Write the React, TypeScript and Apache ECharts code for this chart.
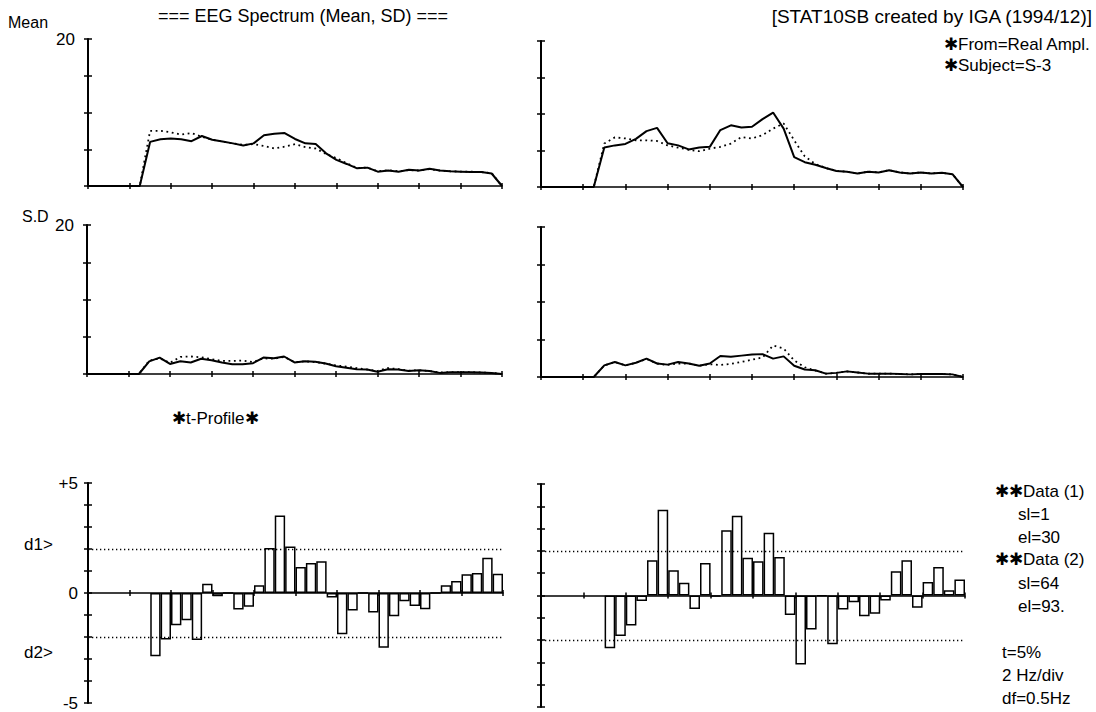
import React, { useEffect, useRef } from "react";
import * as echarts from "echarts";

// Frequency axis, 0.5 Hz resolution (df = 0.5 Hz)
const freqHz = [0, 0.5, 1, 1.5, 2, 2.5, 3, 3.5, 4, 4.5, 5, 5.5, 6, 6.5, 7, 7.5, 8, 8.5, 9, 9.5, 10, 10.5, 11, 11.5, 12, 12.5, 13, 13.5, 14, 14.5, 15, 15.5, 16, 16.5, 17, 17.5, 18, 18.5, 19, 19.5, 20];

// Mean spectra
const meanLeftSolid = [0, 0, 0, 0, 0, 0, 6.0, 6.35, 6.45, 6.35, 6.1, 6.8, 6.3, 6.05, 5.8, 5.5, 5.8, 6.9, 7.1, 7.2, 6.4, 5.8, 5.7, 4.45, 3.55, 3.0, 2.4, 2.5, 1.95, 2.1, 1.95, 2.2, 2.1, 2.35, 2.1, 2.0, 1.95, 1.9, 1.9, 1.7, 0];
const meanLeftDotted = [0, 0, 0, 0, 0, 0, 7.5, 7.5, 7.3, 7.0, 7.2, 6.7, 6.3, 6.05, 5.8, 5.6, 5.7, 5.45, 5.1, 5.35, 5.7, 5.3, 5.1, 4.35, 3.8, 3.1, 2.45, 2.5, 2.0, 2.15, 2.0, 2.15, 2.1, 2.3, 2.1, 2.0, 1.95, 1.95, 1.9, 1.75, 0];
const meanRightSolid = [0, 0, 0, 0, 0, 0, 5.4, 5.7, 5.9, 6.6, 7.65, 8.1, 6.0, 5.7, 5.15, 5.4, 5.5, 7.8, 8.45, 8.15, 8.25, 9.3, 10.2, 8.0, 4.1, 3.4, 3.05, 2.6, 2.2, 2.1, 1.85, 2.1, 2.0, 2.3, 2.0, 1.85, 2.0, 1.85, 1.95, 1.75, 0];
const meanRightDotted = [0, 0, 0, 0, 0, 0, 5.95, 6.8, 6.65, 6.4, 6.4, 6.3, 5.7, 5.4, 5.1, 4.9, 5.25, 5.5, 5.95, 6.85, 6.65, 7.1, 8.0, 8.7, 6.4, 4.2, 3.15, 2.6, 2.2, 2.1, 1.85, 2.1, 2.0, 2.3, 2.0, 1.85, 2.0, 1.85, 1.95, 1.75, 0];

// SD spectra
const sdLeftSolid = [0, 0, 0, 0, 0, 0, 1.7, 2.2, 1.35, 1.7, 1.55, 2.05, 1.85, 1.55, 1.3, 1.3, 1.45, 2.2, 2.1, 2.35, 1.55, 1.7, 1.65, 1.4, 1.05, 0.85, 0.65, 0.6, 0.3, 0.65, 0.6, 0.4, 0.5, 0.4, 0.15, 0.25, 0.25, 0.25, 0.2, 0.15, 0];
const sdLeftDotted = [0, 0, 0, 0, 0, 0, 1.8, 2.1, 1.5, 2.3, 2.35, 2.25, 2.0, 1.75, 1.75, 1.8, 1.6, 2.1, 2.05, 2.3, 1.6, 1.7, 1.6, 1.4, 1.15, 1.0, 0.8, 0.6, 0.4, 0.8, 0.65, 0.45, 0.5, 0.4, 0.2, 0.25, 0.25, 0.25, 0.2, 0.15, 0];
const sdRightSolid = [0, 0, 0, 0, 0, 0, 1.55, 2.0, 1.55, 1.9, 2.45, 1.8, 1.65, 2.0, 1.8, 1.5, 1.8, 2.8, 2.7, 2.85, 3.0, 3.05, 2.45, 2.75, 1.5, 1.0, 0.9, 0.45, 0.55, 0.75, 0.6, 0.45, 0.45, 0.45, 0.4, 0.35, 0.4, 0.4, 0.4, 0.35, 0];
const sdRightDotted = [0, 0, 0, 0, 0, 0, 1.55, 2.0, 1.55, 1.9, 2.4, 1.8, 1.6, 1.8, 1.8, 1.5, 1.7, 1.6, 1.75, 2.0, 2.3, 2.6, 4.2, 3.8, 2.2, 1.3, 0.85, 0.45, 0.55, 0.75, 0.6, 0.45, 0.45, 0.45, 0.4, 0.35, 0.4, 0.4, 0.4, 0.35, 0];

// t-profile (bins 3.0 .. 19.5 Hz, each 0.5 Hz wide)
const tBinStartHz = [3, 3.5, 4, 4.5, 5, 5.5, 6, 6.5, 7, 7.5, 8, 8.5, 9, 9.5, 10, 10.5, 11, 11.5, 12, 12.5, 13, 13.5, 14, 14.5, 15, 15.5, 16, 16.5, 17, 17.5, 18, 18.5, 19, 19.5];
const tLeft = [-2.87, -2.11, -1.47, -1.24, -2.14, 0.42, -0.15, 0, -0.75, -0.63, 0.35, 2.04, 3.52, 2.11, 1.18, 1.36, 1.44, -0.2, -1.87, -0.79, 0, -0.89, -2.49, -1.06, -0.38, -0.59, -0.74, 0, 0.35, 0.54, 0.85, 0.91, 1.6, 0.88];
const tRight = [-2.37, -1.82, -1.34, -0.25, 1.58, 3.85, 1.13, 0.57, -0.6, 1.46, -0.05, 2.93, 3.58, 1.69, 1.54, 2.81, 1.73, -0.88, -3.09, -1.52, -0.03, -2.19, -0.63, -0.3, -0.93, -0.82, -0.22, 1.09, 1.58, -0.55, 0.6, 1.28, 0.24, 0.72];
const tCritical = [2.0, -2.0];

// Tick labels
const spectrumTickValues = [20];
const spectrumTickLabels = ["20"];
const tTickValues = [5, 0, -5];
const tTickLabels = ["+5", "0", "-5"];

const FONT = '"Liberation Sans", Arial, Helvetica, sans-serif';
const FS = 17;
const BLACK = "#000";
const BIN_HZ = 0.5;
const SPAN_HZ = 20;

const grids = [
  { left: 88, top: 39, width: 414, height: 147 },
  { left: 541, top: 41, width: 422, height: 146 },
  { left: 87, top: 225, width: 415, height: 149 },
  { left: 541, top: 227, width: 422, height: 150 },
  { left: 88, top: 483, width: 415, height: 220 },
  { left: 541, top: 484, width: 424, height: 223 },
];

function buildOption() {
  const xAxis: any[] = [];
  const yAxis: any[] = [];
  grids.forEach((_, i) => {
    const isT = i >= 4;
    const showLabels = i % 2 === 0;
    const baseX = {
      type: "value",
      gridIndex: i,
      position: "bottom",
      min: 0,
      max: SPAN_HZ,
      interval: 2,
      axisLabel: { show: false },
      splitLine: { show: false },
    };
    xAxis.push({
      ...baseX,
      axisLine: { show: true, onZero: true, lineStyle: { color: BLACK, width: 1.6 } },
      axisTick: { show: true, inside: false, length: 3, lineStyle: { color: BLACK, width: 1.5 } },
    });
    xAxis.push({
      ...baseX,
      axisLine: { show: false, onZero: true },
      axisTick: { show: true, inside: true, length: 3, lineStyle: { color: BLACK, width: 1.5 } },
    });
    const baseY = {
      type: "value",
      gridIndex: i,
      position: "left",
      min: isT ? -5 : 0,
      max: isT ? 5 : 20,
      interval: isT ? 1 : 5,
      splitLine: { show: false },
    };
    const vals = isT ? tTickValues : spectrumTickValues;
    const labs = isT ? tTickLabels : spectrumTickLabels;
    yAxis.push({
      ...baseY,
      axisLine: { show: true, onZero: false, lineStyle: { color: BLACK, width: 2 } },
      axisTick: { show: true, inside: false, length: 4, lineStyle: { color: BLACK, width: 1.5 } },
      axisLabel: {
        show: showLabels,
        margin: isT ? 10 : 13,
        color: BLACK,
        fontSize: FS,
        fontFamily: FONT,
        formatter: (v: number) => {
          const k = vals.indexOf(v);
          return k >= 0 ? labs[k] : "";
        },
      },
    });
    yAxis.push({
      ...baseY,
      axisLine: { show: false, onZero: false },
      axisTick: { show: true, inside: true, length: 4, lineStyle: { color: BLACK, width: 1.5 } },
      axisLabel: { show: false },
    });
  });

  const lineSeries = (gi: number, vals: number[], dotted: boolean) => ({
    type: "line",
    xAxisIndex: gi * 2,
    yAxisIndex: gi * 2,
    data: freqHz.map((f, k) => [f, vals[k]]),
    showSymbol: false,
    symbol: "none",
    silent: true,
    z: dotted ? 3 : 4,
    lineStyle: dotted
      ? { color: BLACK, width: 1.8, type: [1.8, 3.6] }
      : { color: BLACK, width: 2 },
  });

  const barSeries = (gi: number, vals: number[]) => ({
    type: "bar",
    xAxisIndex: gi * 2,
    yAxisIndex: gi * 2,
    data: vals.map((v, k) => [tBinStartHz[k] + BIN_HZ / 2, v]),
    barWidth: (grids[gi].width * BIN_HZ) / SPAN_HZ,
    silent: true,
    itemStyle: { color: "#fff", borderColor: BLACK, borderWidth: 1.5 },
    markLine: {
      silent: true,
      symbol: ["none", "none"],
      label: { show: false },
      lineStyle: { color: BLACK, width: 1.3, type: [1.3, 2.7] },
      data: tCritical.map((c) => ({ yAxis: c })),
    },
  });

  const txt = (text: string, x: number, y: number, align = "left", size = FS) => ({
    type: "text",
    x,
    y,
    silent: true,
    style: {
      text,
      fill: BLACK,
      fontSize: size,
      fontFamily: FONT,
      align,
      verticalAlign: "middle",
    },
  });

  return {
    animation: false,
    backgroundColor: "#fff",
    grid: grids.map((g) => ({ ...g, containLabel: false })),
    xAxis,
    yAxis,
    series: [
      lineSeries(0, meanLeftDotted, true),
      lineSeries(0, meanLeftSolid, false),
      lineSeries(1, meanRightDotted, true),
      lineSeries(1, meanRightSolid, false),
      lineSeries(2, sdLeftDotted, true),
      lineSeries(2, sdLeftSolid, false),
      lineSeries(3, sdRightDotted, true),
      lineSeries(3, sdRightSolid, false),
      barSeries(4, tLeft),
      barSeries(5, tRight),
    ],
    graphic: [
      txt("Mean", 8, 22, "left", 16),
      txt("=== EEG Spectrum (Mean, SD) ===", 158, 16, "left", 18),
      txt("[STAT10SB created by IGA (1994/12)]", 1092, 16, "right", 19),
      txt("\u2731From=Real Ampl.", 944, 44),
      txt("\u2731Subject=S-3", 944, 65),
      txt("S.D", 22, 216, "left", 16),
      txt("\u2731t-Profile\u2731", 172, 418),
      txt("d1>", 24, 544),
      txt("d2>", 24, 652),
      txt("\u2731\u2731Data (1)", 995, 491),
      txt("sl=1", 1018, 514),
      txt("el=30", 1018, 537),
      txt("\u2731\u2731Data (2)", 995, 559),
      txt("sl=64", 1018, 583),
      txt("el=93.", 1018, 606),
      txt("t=5%", 1002, 652),
      txt("2 Hz/div", 1002, 675),
      txt("df=0.5Hz", 1002, 698),
    ],
  };
}

export default function App() {
  const ref = useRef<HTMLDivElement>(null);
  useEffect(() => {
    if (!ref.current) return;
    const chart = echarts.init(ref.current, undefined, { renderer: "svg" });
    chart.setOption(buildOption() as any);
    return () => chart.dispose();
  }, []);
  return (
    <div
      ref={ref}
      style={{ position: "absolute", left: 0, top: 0, width: 1096, height: 712, background: "#fff" }}
    />
  );
}
